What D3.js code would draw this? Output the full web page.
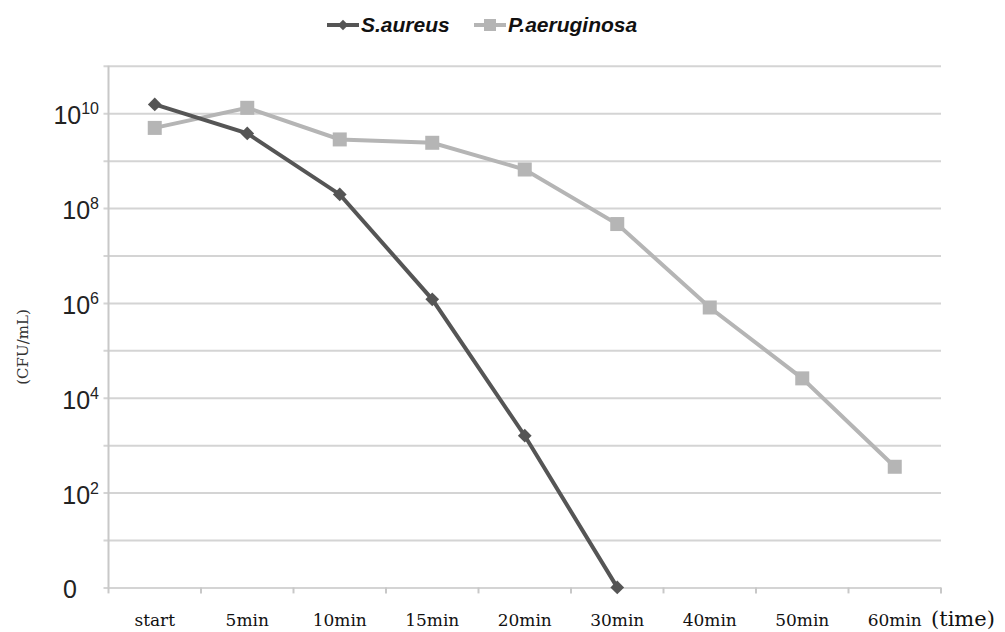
<!DOCTYPE html>
<html>
<head>
<meta charset="utf-8">
<script src="https://cdn.jsdelivr.net/npm/d3@7"></script>
<style>
  body { margin: 0; background: #fff; }
  svg { display: block; }
</style>
</head>
<body>
<div id="chart-area"></div>
<script>
// time points and CFU/mL counts
var times = ["start", "5min", "10min", "15min", "20min", "30min", "40min", "50min", "60min"];
var saureus = [1.53e10, 3.75e9, 1.94e8, 1.19e6, 1.58e3, 1];
var paeruginosa = [4.9e9, 1.3e10, 2.8e9, 2.38e9, 6.5e8, 4.6e7, 8.0e5, 2.56e4, 3.5e2];
var yTicks = [1, 1e1, 1e2, 1e3, 1e4, 1e5, 1e6, 1e7, 1e8, 1e9, 1e10, 1e11];

var W = 1005, H = 632;
var plot = {left: 108.5, right: 941, top: 65.8, bottom: 587.4};

var svg = d3.select("#chart-area").append("svg")
    .attr("width", W)
    .attr("height", H);

var x = d3.scaleBand()
    .domain(times)
    .range([plot.left, plot.right])
    .padding(0);

var y = d3.scaleLog()
    .domain([1, 1e11])
    .range([plot.bottom, plot.top]);

// gridlines
var yAxis = d3.axisLeft(y)
    .tickValues(yTicks)
    .tickSize(-(plot.right - plot.left) - 5)
    .tickFormat("");

var yAxisGroup = svg.append("g")
    .attr("transform", "translate(" + (plot.left - 5) + ",0)")
    .call(yAxis);
yAxisGroup.select(".domain").remove();
yAxisGroup.selectAll(".tick line")
    .attr("stroke", "#d4d4d4")
    .attr("stroke-width", 2);

// left axis line
svg.append("line")
    .attr("x1", plot.left).attr("x2", plot.left)
    .attr("y1", plot.top).attr("y2", plot.bottom)
    .attr("stroke", "#c8c8c8")
    .attr("stroke-width", 2);

// x tick marks at band edges
var edges = times.map(function(d){ return x(d); }).concat([plot.right]);
svg.selectAll(".xtick")
    .data(edges)
    .enter().append("line")
      .attr("class", "xtick")
      .attr("x1", function(d){ return d; })
      .attr("x2", function(d){ return d; })
      .attr("y1", plot.bottom)
      .attr("y2", plot.bottom + 6)
      .attr("stroke", "#c8c8c8")
      .attr("stroke-width", 2);

// y tick labels
var labelTicks = yTicks.filter(function(d){
  var e = Math.round(Math.log10(d));
  return e % 2 === 0 && e <= 10;
});
var yl = svg.selectAll(".ylab")
    .data(labelTicks)
    .enter().append("text")
      .attr("class", "ylab")
      .attr("x", 99)
      .attr("y", function(d){ return y(d) + 11; })
      .attr("text-anchor", "end")
      .attr("font-family", "Liberation Sans, Arial, sans-serif")
      .attr("font-size", "25px")
      .attr("fill", "#222");
yl.each(function(d){
  var e = Math.round(Math.log10(d));
  var t = d3.select(this);
  if (e === 0) {
    t.attr("x", 77).text("0");
  } else {
    t.append("tspan").text("10");
    t.append("tspan")
      .attr("dy", -10)
      .attr("font-size", "16px")
      .text(e);
  }
});

// x labels
svg.selectAll(".xlab")
    .data(times)
    .enter().append("text")
      .attr("class", "xlab")
      .attr("x", function(d){ return x(d) + x.bandwidth() / 2; })
      .attr("y", 626)
      .attr("text-anchor", "middle")
      .attr("font-family", "DejaVu Serif, serif")
      .attr("font-size", "17px")
      .attr("fill", "#111")
      .text(function(d){ return d; });

svg.append("text")
    .attr("x", 931)
    .attr("y", 626)
    .attr("font-family", "DejaVu Serif, serif")
    .attr("font-size", "21px")
    .attr("fill", "#111")
    .text("(time)");

// y axis title
svg.append("text")
    .attr("transform", "translate(28,347) rotate(-90)")
    .attr("text-anchor", "middle")
    .attr("font-family", "DejaVu Serif, serif")
    .attr("font-size", "15px")
    .attr("fill", "#333")
    .text("(CFU/mL)");

var line = d3.line()
    .x(function(d, i){ return x(times[i]) + x.bandwidth() / 2; })
    .y(function(d){ return y(d); });

var cLight = "#b5b5b5", cDark = "#555555";

// P. aeruginosa
svg.append("path")
    .datum(paeruginosa)
    .attr("fill", "none")
    .attr("stroke", cLight)
    .attr("stroke-width", 4)
    .attr("d", line);
svg.selectAll(".psq")
    .data(paeruginosa)
    .enter().append("rect")
      .attr("class", "psq")
      .attr("x", function(d, i){ return x(times[i]) + x.bandwidth() / 2 - 7; })
      .attr("y", function(d){ return y(d) - 7; })
      .attr("width", 14)
      .attr("height", 14)
      .attr("fill", cLight);

// S. aureus
svg.append("path")
    .datum(saureus)
    .attr("fill", "none")
    .attr("stroke", cDark)
    .attr("stroke-width", 4)
    .attr("d", line);
svg.selectAll(".sdm")
    .data(saureus)
    .enter().append("path")
      .attr("class", "sdm")
      .attr("transform", function(d, i){
        return "translate(" + (x(times[i]) + x.bandwidth() / 2) + "," + y(d) + ")";
      })
      .attr("d", d3.symbol().type(d3.symbolDiamond2).size(120))
      .attr("fill", cDark);

// legend
var legend = [
  {name: "S.aureus", color: cDark, x: 327, shape: "diamond"},
  {name: "P.aeruginosa", color: cLight, x: 474, shape: "square"}
];
var lg = svg.selectAll(".leg")
    .data(legend)
    .enter().append("g")
      .attr("class", "leg")
      .attr("transform", function(d){ return "translate(" + d.x + ",25)"; });
lg.append("line")
    .attr("x1", 0).attr("x2", 32)
    .attr("y1", 0).attr("y2", 0)
    .attr("stroke", function(d){ return d.color; })
    .attr("stroke-width", 4);
lg.each(function(d){
  var g = d3.select(this);
  if (d.shape === "diamond") {
    g.append("path")
      .attr("transform", "translate(16,0)")
      .attr("d", d3.symbol().type(d3.symbolDiamond2).size(70))
      .attr("fill", d.color);
  } else {
    g.append("rect")
      .attr("x", 10).attr("y", -6)
      .attr("width", 12).attr("height", 12)
      .attr("fill", d.color);
  }
});
lg.append("text")
    .attr("x", 34)
    .attr("y", 7)
    .attr("font-family", "Liberation Sans Narrow, Arial Narrow, sans-serif")
    .attr("font-weight", "bold")
    .attr("font-style", "italic")
    .attr("font-size", "21px")
    .attr("fill", "#111")
    .text(function(d){ return d.name; });
</script>
</body>
</html>
